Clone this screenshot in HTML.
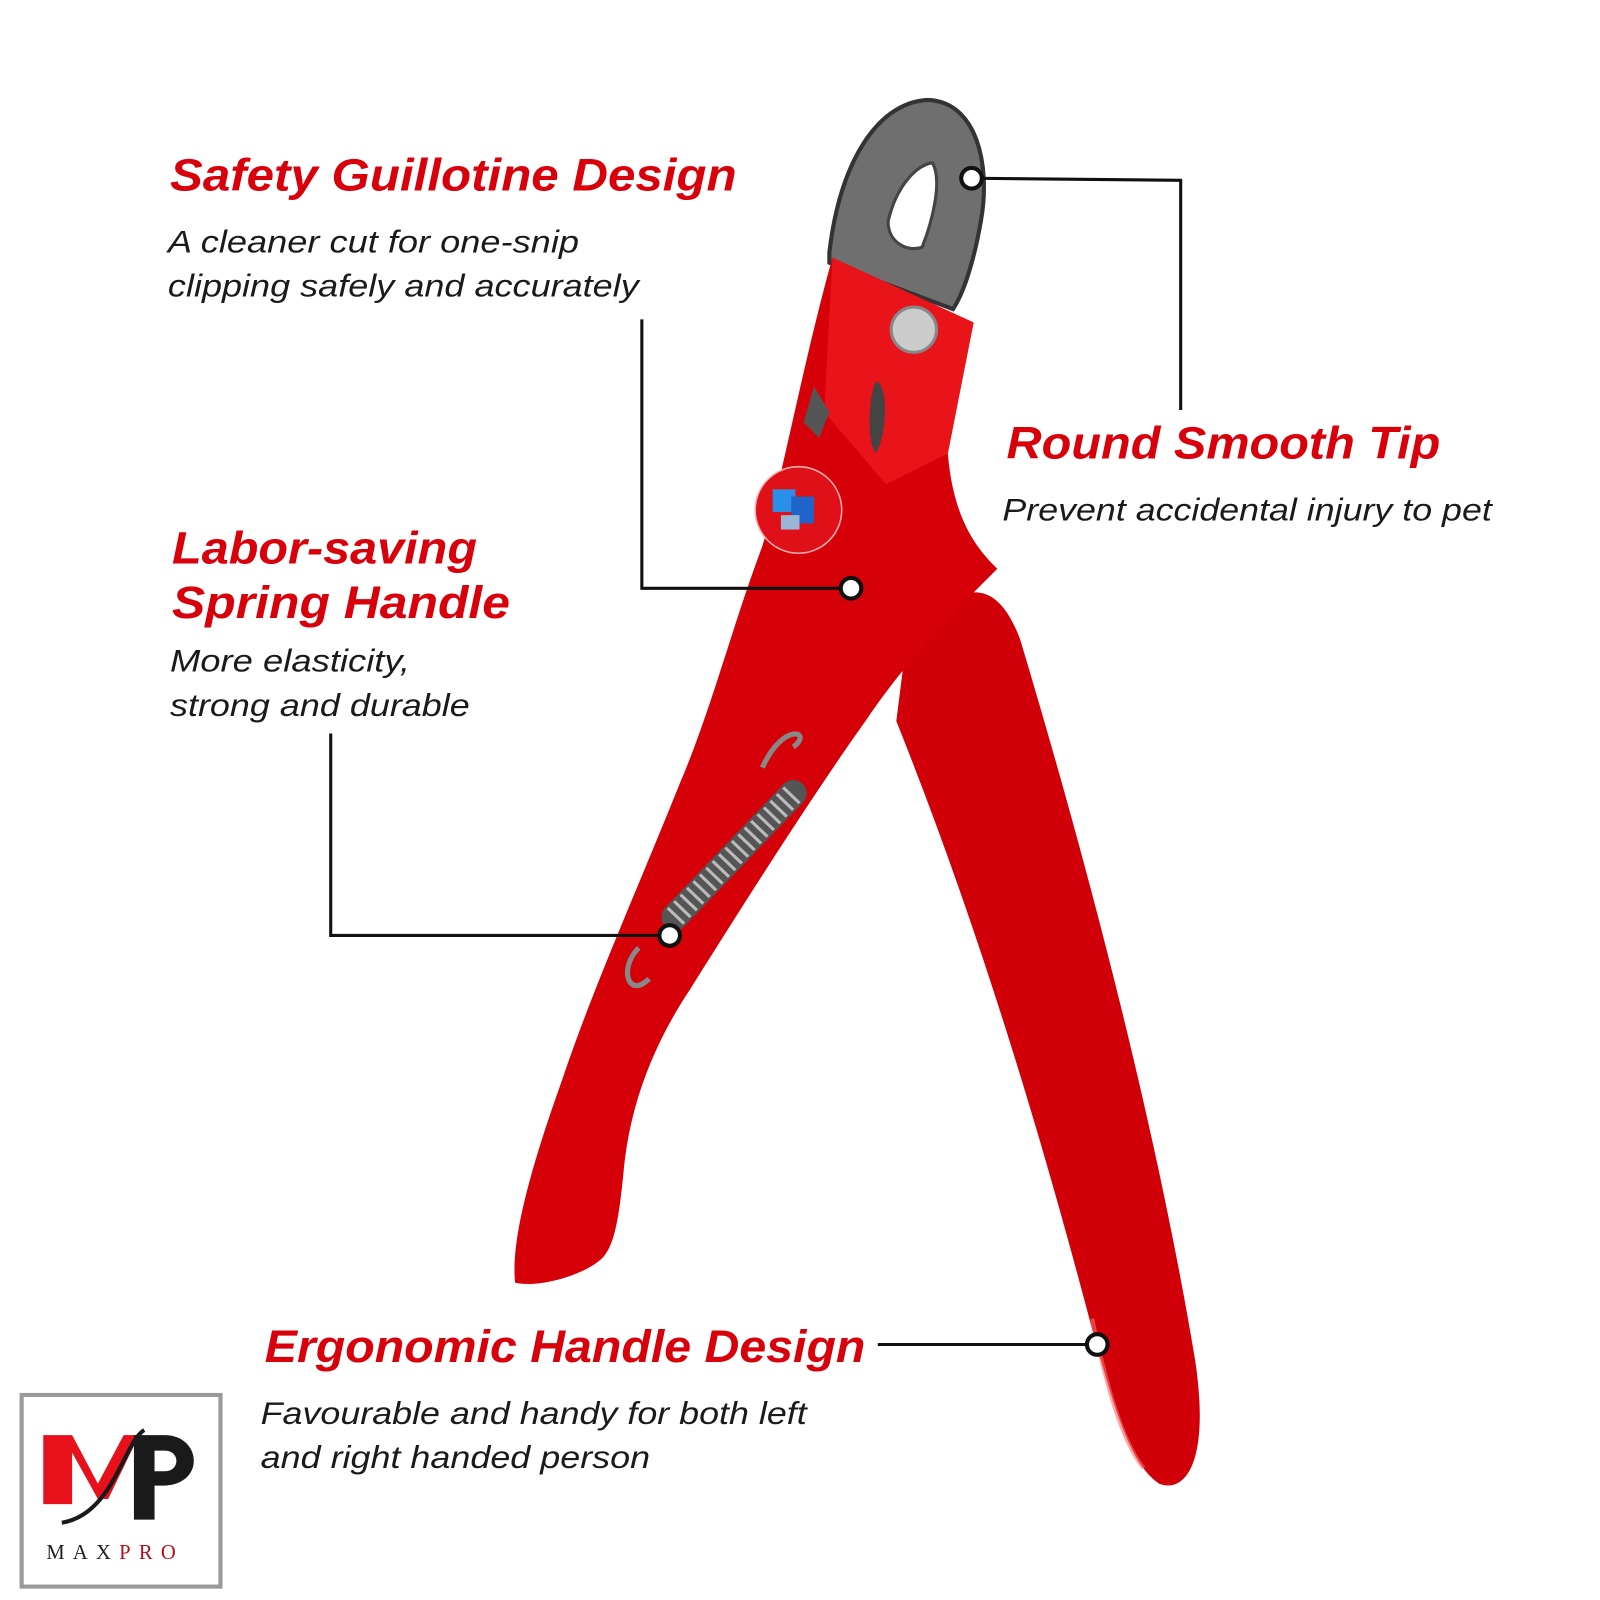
<!DOCTYPE html>
<html><head><meta charset="utf-8"><style>
html,body{margin:0;padding:0;background:#fff;width:1600px;height:1600px;overflow:hidden}
svg{display:block}
.h{font-family:"Liberation Sans",sans-serif;font-weight:bold;font-style:italic;fill:#d8000a}
.b{font-family:"Liberation Sans",sans-serif;font-style:italic;fill:#1a1a1a}
</style></head><body>
<svg width="1600" height="1600" viewBox="0 0 1553 1553" xmlns="http://www.w3.org/2000/svg">
<rect width="1553" height="1553" fill="#fff"/>
<!-- blade -->
<path d="M805,245 C815,160 850,100 900,97 C948,98 962,160 952,215 C945,255 935,285 925,300 L805,255 Z" fill="#6f6f6f" stroke="#333" stroke-width="4"/>
<path d="M862,215 C870,180 890,160 905,158 C915,175 905,215 895,240 C880,245 862,235 862,215 Z" fill="#fff" stroke="#444" stroke-width="3"/>
<!-- right handle -->
<path d="M880,620 C930,565 965,555 990,620 C1050,820 1120,1080 1160,1320 C1175,1420 1150,1450 1125,1440 C1095,1420 1080,1360 1060,1290 C1010,1100 950,900 870,700 Z" fill="#d10008"/>
<path d="M1060,1280 C1075,1350 1090,1400 1110,1425" stroke="#ff6a6a" stroke-width="4" fill="none" opacity=".6"/>
<!-- head + left handle -->
<path d="M808,250 L945,313 L920,440 C925,500 945,530 968,552 C930,590 880,640 840,700 C790,770 720,880 670,960 C630,1020 610,1080 605,1140 C600,1190 595,1215 580,1225 C560,1240 520,1250 500,1245 C495,1200 520,1120 545,1050 C575,960 620,860 660,760 C690,690 710,610 740,530 C760,460 780,350 808,250 Z" fill="#d60008"/>
<path d="M808,250 L945,313 L920,440 L860,470 L800,400 Z" fill="#e8141a"/>
<circle cx="887" cy="320" r="22" fill="#ccc" stroke="#888" stroke-width="3"/>
<path d="M850,370 C862,372 862,420 850,440 C842,430 842,390 850,370 Z" fill="#444"/>
<path d="M790,375 L805,400 L795,425 L780,410 Z" fill="#555"/>
<circle cx="775" cy="495" r="42" fill="#e01018" stroke="#ffb0b0" stroke-width="1.5"/>
<rect x="750" y="475" width="22" height="22" fill="#2a8fe8"/>
<rect x="768" y="482" width="22" height="26" fill="#1f64c8"/>
<rect x="758" y="500" width="18" height="14" fill="#9ab6d6"/>
<!-- spring -->
<g stroke="#888" stroke-width="5" fill="none">
<path d="M655,890 L770,770" stroke="#555" stroke-width="26" stroke-linecap="round"/>
<path d="M655,890 L770,770" stroke="#bbb" stroke-width="22" stroke-dasharray="3 6"/>
<path d="M740,745 C760,700 790,710 770,725"/>
<path d="M620,920 C600,940 610,970 630,950"/>
</g>
<!-- connectors -->
<g stroke="#111" stroke-width="3" fill="none">
<polyline points="943,173 1146,175 1146,398"/>
<polyline points="826,571 623,571 623,310"/>
<polyline points="650,908 321,908 321,712"/>
<polyline points="1065,1305 852,1305"/>
</g>
<g fill="#fff" stroke="#111" stroke-width="4">
<circle cx="943" cy="173" r="10"/><circle cx="826" cy="571" r="10"/>
<circle cx="650" cy="908" r="10"/><circle cx="1065" cy="1305" r="10"/>
</g>
<!-- text -->
<text class="h" x="165" y="185" font-size="44" textLength="550" lengthAdjust="spacingAndGlyphs">Safety Guillotine Design</text>
<text class="b" x="163" y="245" font-size="31" textLength="399" lengthAdjust="spacingAndGlyphs">A cleaner cut for one-snip</text>
<text class="b" x="163" y="288" font-size="31" textLength="457" lengthAdjust="spacingAndGlyphs">clipping safely and accurately</text>
<text class="h" x="977" y="445" font-size="44" textLength="421" lengthAdjust="spacingAndGlyphs">Round Smooth Tip</text>
<text class="b" x="973" y="505" font-size="31" textLength="475" lengthAdjust="spacingAndGlyphs">Prevent accidental injury to pet</text>
<text class="h" x="167" y="547" font-size="44" textLength="296" lengthAdjust="spacingAndGlyphs">Labor-saving</text>
<text class="h" x="167" y="600" font-size="44" textLength="328" lengthAdjust="spacingAndGlyphs">Spring Handle</text>
<text class="b" x="165" y="652" font-size="31" textLength="233" lengthAdjust="spacingAndGlyphs">More elasticity,</text>
<text class="b" x="165" y="695" font-size="31" textLength="291" lengthAdjust="spacingAndGlyphs">strong and durable</text>
<text class="h" x="257" y="1322" font-size="44" textLength="583" lengthAdjust="spacingAndGlyphs">Ergonomic Handle Design</text>
<text class="b" x="253" y="1382" font-size="31" textLength="530" lengthAdjust="spacingAndGlyphs">Favourable and handy for both left</text>
<text class="b" x="253" y="1425" font-size="31" textLength="378" lengthAdjust="spacingAndGlyphs">and right handed person</text>
<!-- logo -->
<rect x="21" y="1354" width="193" height="186" fill="#fff" stroke="#999" stroke-width="4"/>
<path d="M42,1460 L42,1393 L70,1393 L95,1440 L120,1393 L135,1393 L105,1455 L95,1455 L70,1410 L70,1460 Z" fill="#e8101a"/>
<path d="M130,1393 L160,1393 C195,1393 200,1440 160,1442 L150,1442 L150,1475 L130,1475 Z M150,1408 L150,1428 L160,1428 C175,1428 175,1408 160,1408 Z" fill="#1a1a1a" fill-rule="evenodd"/>
<path d="M60,1478 C110,1470 120,1400 140,1388" stroke="#1a1a1a" stroke-width="4" fill="none"/>
<text x="45" y="1513" font-family="Liberation Serif,serif" font-size="20" letter-spacing="8"><tspan fill="#222">MAX</tspan><tspan fill="#b0101a">PRO</tspan></text>
</svg>
</body></html>
